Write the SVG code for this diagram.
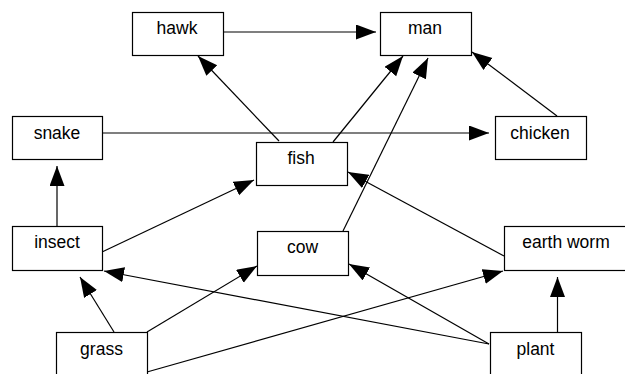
<svg xmlns="http://www.w3.org/2000/svg" width="625" height="374" viewBox="0 0 625 374">
<style>
.box{fill:#fff;stroke:#000;stroke-width:1.2}
.lbl{font-family:"Liberation Sans",Arial,sans-serif;font-size:17.5px;fill:#000;text-anchor:middle}
.edge{stroke:#000;stroke-width:1.2;fill:none;marker-end:url(#ah)}
</style>
<defs>
<marker id="ah" markerUnits="userSpaceOnUse" markerWidth="21" markerHeight="16" refX="20" refY="7.5" orient="auto">
<path d="M0,0 L20,7.5 L0,15 z" fill="#000"/>
</marker>
</defs>
<rect width="625" height="374" fill="#fff"/>
<g id="connectors">
<line class="edge" x1="222" y1="32" x2="376" y2="32"/>
<line class="edge" x1="279" y1="141" x2="198" y2="56"/>
<line class="edge" x1="333" y1="142" x2="403" y2="56"/>
<line class="edge" x1="343" y1="231" x2="428" y2="58"/>
<line class="edge" x1="557" y1="116" x2="472" y2="52"/>
<line class="edge" x1="102" y1="133" x2="489" y2="133"/>
<line class="edge" x1="57" y1="226" x2="57" y2="166"/>
<line class="edge" x1="102" y1="252" x2="254" y2="180"/>
<line class="edge" x1="504" y1="256" x2="348" y2="172"/>
<line class="edge" x1="114" y1="332" x2="80" y2="277"/>
<line class="edge" x1="147" y1="332" x2="257" y2="266"/>
<line class="edge" x1="147" y1="372" x2="503" y2="271"/>
<line class="edge" x1="489" y1="344" x2="104" y2="271"/>
<line class="edge" x1="489" y1="344" x2="349" y2="264"/>
<line class="edge" x1="557.5" y1="332" x2="557.5" y2="277"/>
</g>
<g id="hawk"><rect class="box" x="132.5" y="12.5" width="91" height="43"/><text class="lbl" x="177" y="34">hawk</text></g>
<g id="man"><rect class="box" x="380.5" y="12.5" width="91" height="43"/><text class="lbl" x="425" y="34">man</text></g>
<g id="snake"><rect class="box" x="12.5" y="116.5" width="90" height="43"/><text class="lbl" x="57" y="138.5">snake</text></g>
<g id="chicken"><rect class="box" x="495.5" y="116.5" width="91" height="43"/><text class="lbl" x="540" y="138.5">chicken</text></g>
<g id="fish"><rect class="box" x="256.5" y="142.5" width="91" height="43"/><text class="lbl" x="301" y="164">fish</text></g>
<g id="insect"><rect class="box" x="12.5" y="226.5" width="90" height="44"/><text class="lbl" x="57" y="248">insect</text></g>
<g id="cow"><rect class="box" x="257.5" y="231.5" width="91" height="44"/><text class="lbl" x="302.5" y="253">cow</text></g>
<g id="earth-worm"><rect class="box" x="504.5" y="226.5" width="124" height="44"/><text class="lbl" x="566" y="248">earth worm</text></g>
<g id="grass"><rect class="box" x="56.5" y="332.5" width="91" height="44"/><text class="lbl" x="101.5" y="355">grass</text></g>
<g id="plant"><rect class="box" x="490.5" y="332.5" width="91" height="44"/><text class="lbl" x="535.5" y="355">plant</text></g>
</svg>
